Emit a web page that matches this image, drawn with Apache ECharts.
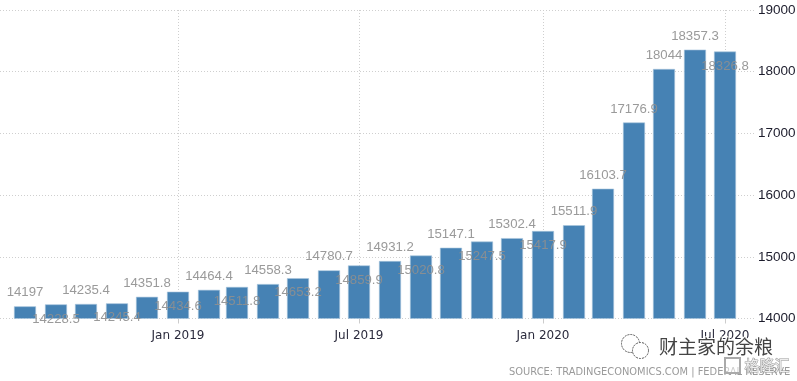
<!DOCTYPE html>
<html><head><meta charset="utf-8">
<style>html,body{margin:0;padding:0;background:#fff}#c{width:797px;height:381px;filter:blur(0.4px)}</style>
<script src="https://cdn.jsdelivr.net/npm/echarts@6/dist/echarts.min.js"></script>
</head><body><div id="c"></div>
<script>
const months = ['2018-08-01','2018-09-01','2018-10-01','2018-11-01','2018-12-01','2019-01-01','2019-02-01','2019-03-01','2019-04-01','2019-05-01','2019-06-01','2019-07-01','2019-08-01','2019-09-01','2019-10-01','2019-11-01','2019-12-01','2020-01-01','2020-02-01','2020-03-01','2020-04-01','2020-05-01','2020-06-01','2020-07-01'];
const values = [14197,14228.5,14235.4,14245.4,14351.8,14434.6,14464.4,14511.8,14558.3,14653.2,14780.7,14859.9,14931.2,15020.8,15147.1,15247.5,15302.4,15417.9,15511.9,16103.7,17176.9,18044,18357.3,18326.8];
const tickMonths = ['2019-01-01','2019-07-01','2020-01-01','2020-07-01'];
const tickLabels = ['Jan 2019','Jul 2019','Jan 2020','Jul 2020'];
const loweredLabels = [14228.5,14245.4,14434.6,14511.8,14653.2,14859.9,15020.8,15247.5,15417.9,18326.8];
const sourceText = 'SOURCE: TRADINGECONOMICS.COM | FEDERAL RESERVE';
const watermark = '财主家的余粮';
const watermark2 = '格隆汇';

const toTime = d => +new Date(d);
const tickTimes = tickMonths.map(toTime);
const chart = echarts.init(document.getElementById('c'), null, {renderer:'canvas'});
const grey = '#8f8f8f';
chart.setOption({
  animation:false,
  backgroundColor:'#fff',
  grid:{left:0,right:42,top:10,bottom:62.5,outerBoundsMode:'none'},
  xAxis:{
    type:'value',
    min:toTime('2018-07-07'),max:toTime('2020-07-31'),
    axisLine:{show:false},
    axisTick:{show:true,customValues:tickTimes,length:5,lineStyle:{color:'#ccc'}},
    axisLabel:{show:true,customValues:tickTimes,hideOverlap:false,margin:11,
      color:'#2a2a3c',fontFamily:'DejaVu Sans',fontSize:12,
      formatter:v=>tickLabels[tickTimes.indexOf(+v)]},
    splitLine:{show:true,lineStyle:{color:'#cfcfcf',type:[1,2],width:1}}
  },
  yAxis:{
    type:'value',position:'right',min:14000,max:19000,interval:1000,
    axisLine:{show:false},axisTick:{show:false},
    axisLabel:{margin:3,color:'#1c1c2c',fontFamily:'Liberation Sans',fontSize:13.5,formatter:v=>String(v)},
    splitLine:{show:true,lineStyle:{color:'#cfcfcf',type:[1,2],width:1}}
  },
  series:[{
    type:'bar',barWidth:22,
    itemStyle:{color:'#4682b4',borderColor:'#a9c6de',borderWidth:0.6},
    data:values.map((v,i)=>{
      const low = loweredLabels.includes(v);
      return {value:[toTime(months[i]),v],label:{show:true,position:'top',distance:7,
        offset:low?[0,28]:[0,0],
        formatter:String(v),color:grey,opacity:0.9,
        fontFamily:'Liberation Sans',fontSize:13.2}};
    })
  }],
  graphic:[
    {type:'text',left:509,top:367,z:5,style:{text:sourceText,fill:'#9a9a9a',fontFamily:'DejaVu Sans',fontSize:9.9}},
    {type:'group',left:621,top:334,z:6,children:[
      {type:'circle',shape:{cx:11,cy:10,r:9},style:{fill:'#fff',stroke:'#555',lineWidth:1,lineDash:[2,1]}},
      {type:'circle',shape:{cx:21,cy:17,r:8},style:{fill:'#fff',stroke:'#555',lineWidth:1,lineDash:[2,1]}}
    ]},
    {type:'text',left:658,top:336,z:6,style:{text:watermark,fill:'#444',stroke:'#fff',lineWidth:2,fontFamily:'Noto Sans CJK SC',fontSize:19}},
    {type:'rect',z:6,shape:{x:725,y:358,width:15,height:15},style:{fill:'rgba(255,255,255,0.5)',stroke:'#aaa',lineWidth:2}},
    {type:'text',left:744,top:357,z:6,style:{text:watermark2,fill:'#eee',stroke:'#999',lineWidth:1,fontFamily:'Noto Sans CJK SC',fontSize:15}}
  ]
});
</script></body></html>
